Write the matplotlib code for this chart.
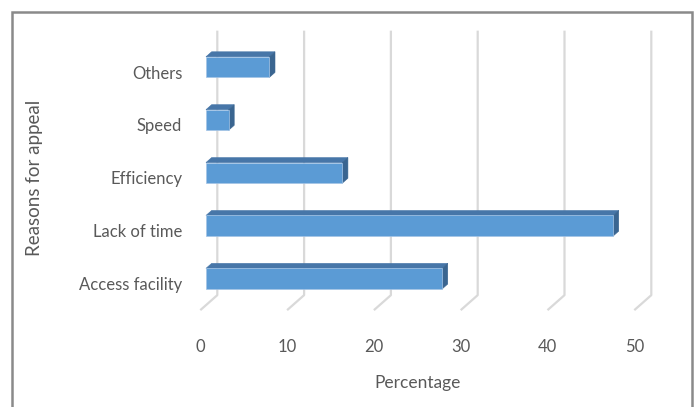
import matplotlib.pyplot as plt
from matplotlib.patches import Polygon, Rectangle

reasons = ["Access facility", "Lack of time", "Efficiency", "Speed", "Others"]
percent = [27.2, 46.9, 15.7, 2.6, 7.3]
x_ticks = [0, 10, 20, 30, 40, 50]

W, H = 697, 407
PX_X = 8.68      # pixels per percent
PX_Y = 52.9      # pixels per category
DEPTH_X = 17 / PX_X   # full depth of the 3d box, in data units
DEPTH_Y = 15 / PX_Y
BAR_H = 0.39

FRONT = "#5b9bd5"
TOP = "#4776a8"
SIDE = "#3a6590"
GRID = "#d9d9d9"
TEXT = "#595959"

plt.rcParams["font.family"] = ["Lato", "DejaVu Sans"]

fig = plt.figure(figsize=(W / 100, H / 100), dpi=100)
# axes = front plane of the 3d box
left_px, bottom_px = 200.3, 96.85
ax = fig.add_axes([left_px / W, bottom_px / H, 50 * PX_X / W, 5 * PX_Y / H])
ax.set_xlim(0, 50)
ax.set_ylim(-0.5, 4.5)
for s in ax.spines.values():
    s.set_visible(False)


def shift(x, y, d):
    return x + d * DEPTH_X, y + d * DEPTH_Y


# back wall gridlines and floor diagonals
for v in x_ticks:
    bx0, by0 = shift(v, -0.5, 1)
    bx1, by1 = shift(v, 4.5, 1)
    ax.plot([v, bx0, bx1], [-0.5, by0, by1], color=GRID, lw=1.6,
            clip_on=False, zorder=1, solid_capstyle="butt")

# 3d bars: front face sits at one third of the depth, back at two thirds
d0, d1 = 1 / 3, 2 / 3
for i, v in enumerate(percent):
    y_lo, y_hi = i - BAR_H / 2, i + BAR_H / 2
    fx0, fy0 = shift(0, y_lo, d0)
    ax.barh(fy0 + BAR_H / 2, v, height=BAR_H, left=fx0, color=FRONT,
            edgecolor="#a4c4e6", linewidth=0.5, zorder=3, clip_on=False)
    top = [shift(0, y_hi, d0), shift(v, y_hi, d0),
           shift(v, y_hi, d1), shift(0, y_hi, d1)]
    side = [shift(v, y_lo, d0), shift(v, y_hi, d0),
            shift(v, y_hi, d1), shift(v, y_lo, d1)]
    ax.add_patch(Polygon(top, closed=True, facecolor=TOP, edgecolor=TOP,
                         lw=0.4, zorder=2, clip_on=False))
    ax.add_patch(Polygon(side, closed=True, facecolor=SIDE, edgecolor=SIDE,
                         lw=0.4, zorder=2, clip_on=False))

ax.set_xticks(x_ticks)
ax.set_yticks(range(len(reasons)))
ax.set_yticklabels(reasons)
ax.tick_params(length=0, labelsize=12, labelcolor=TEXT)
ax.tick_params(axis="x", pad=21)
ax.tick_params(axis="y", pad=13)
ax.set_xlabel("Percentage", fontsize=12.5, color=TEXT, labelpad=14)
ax.set_ylabel("Reasons for appeal", fontsize=13.5, color=TEXT, labelpad=26)

# chart frame
fig.add_artist(Rectangle((12 / W, -0.05), 680 / W, 1.05 - 12 / H,
                         transform=fig.transFigure, fill=False,
                         edgecolor="#8a8a8a", lw=1.8))

fig.savefig("out.png", dpi=100)
